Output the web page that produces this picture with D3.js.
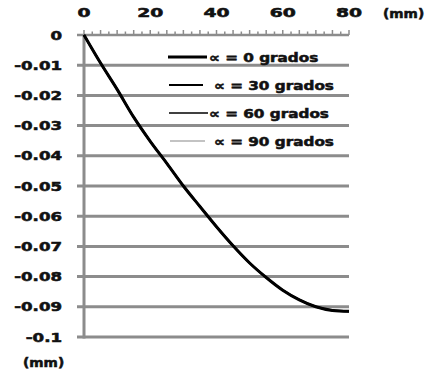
<!DOCTYPE html>
<html><head><meta charset="utf-8">
<script src="https://cdn.jsdelivr.net/npm/d3@7"></script>
<style>body{margin:0;background:#fff}svg{display:block}text{font-family:"DejaVu Sans",Arial,sans-serif;font-weight:bold;fill:#111;stroke:#111;stroke-width:0.55px}</style>
</head><body><svg id="c" width="434" height="374"></svg>
<script>
const xPos = [0,5,10,15,20,25,30,35,40,45,50,55,60,65,70,75,80];
const deflection = [0,-0.0093,-0.0180,-0.0272,-0.0352,-0.0425,-0.0500,-0.0568,-0.0635,-0.0698,-0.0755,-0.0803,-0.0845,-0.0877,-0.0900,-0.0912,-0.0915];
const seriesNames = ["\u221d = 0 grados","\u221d = 30 grados","\u221d = 60 grados","\u221d = 90 grados"];
const seriesValues = [deflection, deflection, deflection, deflection];
const xTicks = [0,20,40,60,80];
const yTicks = [0,-0.01,-0.02,-0.03,-0.04,-0.05,-0.06,-0.07,-0.08,-0.09,-0.1];
const yTickLabels = ["0","-0.01","-0.02","-0.03","-0.04","-0.05","-0.06","-0.07","-0.08","-0.09","-0.1"];
const unitLabel = "(mm)";

const svg = d3.select("#c");
const x = d3.scaleLinear().domain([0,80]).range([84,349]);
const y = d3.scaleLinear().domain([0,-0.1]).range([35,337]);
const grid = "#8c8c8c";
const widths = [3,2.2,1.6,1.2];
const colors = ["#000","#000","#000","#888"];

function stretched(sel, sx){
  sel.attr("transform", function(){
    const t = d3.select(this);
    return `translate(${t.attr("data-x")},${t.attr("data-y")}) scale(${sx},1)`;
  });
}

// gridlines
svg.append("g").selectAll("line").data(yTicks.slice(1)).join("line")
  .attr("x1",x(0)-7).attr("x2",x(80)).attr("y1",d=>y(d)).attr("y2",d=>y(d))
  .attr("stroke",grid).attr("stroke-width",3);
// top axis line
svg.append("line").attr("x1",x(0)-7).attr("x2",x(80)).attr("y1",y(0)).attr("y2",y(0))
  .attr("stroke",grid).attr("stroke-width",2.5);
// minor ticks along zero
svg.append("g").selectAll("line").data(d3.range(0,80.1,2.5)).join("line")
  .attr("x1",d=>x(d)).attr("x2",d=>x(d)).attr("y1",y(0)).attr("y2",d=>y(0)-(d%5===0?5:3.5))
  .attr("stroke",grid).attr("stroke-width",1.5);
// vertical axis
svg.append("line").attr("x1",x(0)).attr("x2",x(0)).attr("y1",y(0)).attr("y2",y(-0.1)+1.5)
  .attr("stroke",grid).attr("stroke-width",3);

// x tick labels
svg.append("g").selectAll("text").data(xTicks).join("text")
  .attr("data-x",d=>x(d)).attr("data-y",12).attr("dy","0.36em").attr("text-anchor","middle")
  .attr("font-size",12.5).text(d=>d).call(stretched,1.5);
svg.append("text").attr("data-x",383).attr("data-y",13).attr("dy","0.36em").attr("font-size",12.5)
  .text(unitLabel).call(stretched,1.1);
// y tick labels
svg.append("g").selectAll("text").data(yTicks).join("text")
  .attr("data-x",62).attr("data-y",d=>y(d)).attr("dy","0.36em").attr("text-anchor","end")
  .attr("font-size",12.5).text((d,i)=>yTickLabels[i]).call(stretched,1.33);
svg.append("text").attr("data-x",23).attr("data-y",362).attr("dy","0.36em").attr("font-size",12.5)
  .text(unitLabel).call(stretched,1.1);

// curves
const line = d3.line().x((d,i)=>x(xPos[i])).y(d=>y(d)).curve(d3.curveMonotoneX);
svg.append("g").selectAll("path").data(seriesValues.map((v,i)=>({v,i})).reverse()).join("path")
  .attr("d",d=>line(d.v)).attr("fill","none")
  .attr("stroke","#000").attr("stroke-width",d=>d.i===0?3:widths[d.i]);

// legend
const legY = [57,85,113,141];
const legX1 = [168,169,169,170], legX2 = [207,203,208,205], txtX = [209,214,209,214];
const lg = svg.append("g").selectAll("g").data(seriesNames).join("g");
lg.append("line").attr("x1",(d,i)=>legX1[i]).attr("x2",(d,i)=>legX2[i])
  .attr("y1",(d,i)=>legY[i]).attr("y2",(d,i)=>legY[i])
  .attr("stroke",(d,i)=>colors[i]).attr("stroke-width",(d,i)=>widths[i]);
lg.append("text").attr("data-x",(d,i)=>txtX[i]).attr("data-y",(d,i)=>legY[i]).attr("dy","0.36em")
  .attr("font-size",12.5).text(d=>d).call(stretched,1.22);
</script></body></html>
